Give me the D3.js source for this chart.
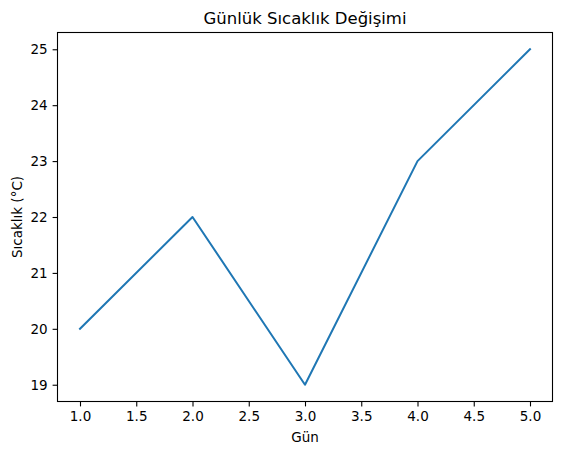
<!DOCTYPE html>
<html>
<head>
<meta charset="utf-8">
<script src="https://cdn.jsdelivr.net/npm/d3@7"></script>
<style>
  body { margin: 0; background: #fff; }
  text { font-family: "DejaVu Sans", sans-serif; fill: #000; }
</style>
</head>
<body>
<div id="chart"></div>
<script>
var days = [1, 2, 3, 4, 5];
var temps = [20, 22, 19, 23, 25];
var xTicks = [1.0, 1.5, 2.0, 2.5, 3.0, 3.5, 4.0, 4.5, 5.0];
var yTicks = [19, 20, 21, 22, 23, 24, 25];

var width = 563, height = 455;
var margin = {top: 32.5, right: 10.5, bottom: 53.5, left: 57.5};
var w = width - margin.left - margin.right;
var h = height - margin.top - margin.bottom;

var tickFont = "13.5px";

var svg = d3.select("#chart").append("svg")
    .attr("width", width)
    .attr("height", height);

var g = svg.append("g")
    .attr("transform", "translate(" + margin.left + "," + margin.top + ")");

// matplotlib style 5% padding
var x = d3.scaleLinear().domain([0.8, 5.2]).range([0, w]);
var y = d3.scaleLinear().domain([18.7, 25.3]).range([h, 0]);

var line = d3.line()
    .x(function(d, i) { return x(days[i]); })
    .y(function(d) { return y(d); });

g.append("path")
    .datum(temps)
    .attr("fill", "none")
    .attr("stroke", "#1f77b4")
    .attr("stroke-width", 2)
    .attr("stroke-linejoin", "round")
    .attr("stroke-linecap", "square")
    .attr("d", line);

var xAxis = g.append("g")
    .attr("transform", "translate(0," + h + ")")
    .call(d3.axisBottom(x).tickValues(xTicks).tickFormat(d3.format(".1f")).tickSize(4.9).tickPadding(4.9));

var yAxis = g.append("g")
    .call(d3.axisLeft(y).tickValues(yTicks).tickFormat(d3.format("d")).tickSize(4.9).tickPadding(4.9));

[xAxis, yAxis].forEach(function(a) {
    a.select(".domain").remove();
    a.selectAll("line").attr("stroke", "#000").attr("stroke-width", 1.1);
    a.selectAll("text").style("font-size", tickFont).style("font-family", "DejaVu Sans, sans-serif");
});

// frame
g.append("rect")
    .attr("width", w)
    .attr("height", h)
    .attr("fill", "none")
    .attr("stroke", "#000")
    .attr("stroke-width", 1.1);

svg.append("text")
    .attr("x", margin.left + w / 2)
    .attr("y", 24)
    .attr("text-anchor", "middle")
    .style("font-size", "16.5px")
    .text("Günlük Sıcaklık Değişimi");

svg.append("text")
    .attr("x", margin.left + w / 2)
    .attr("y", 442)
    .attr("text-anchor", "middle")
    .style("font-size", tickFont)
    .text("Gün");

svg.append("text")
    .attr("transform", "translate(21.5," + (margin.top + h / 2) + ") rotate(-90)")
    .attr("text-anchor", "middle")
    .style("font-size", tickFont)
    .text("Sıcaklık (°C)");
</script>
</body>
</html>
